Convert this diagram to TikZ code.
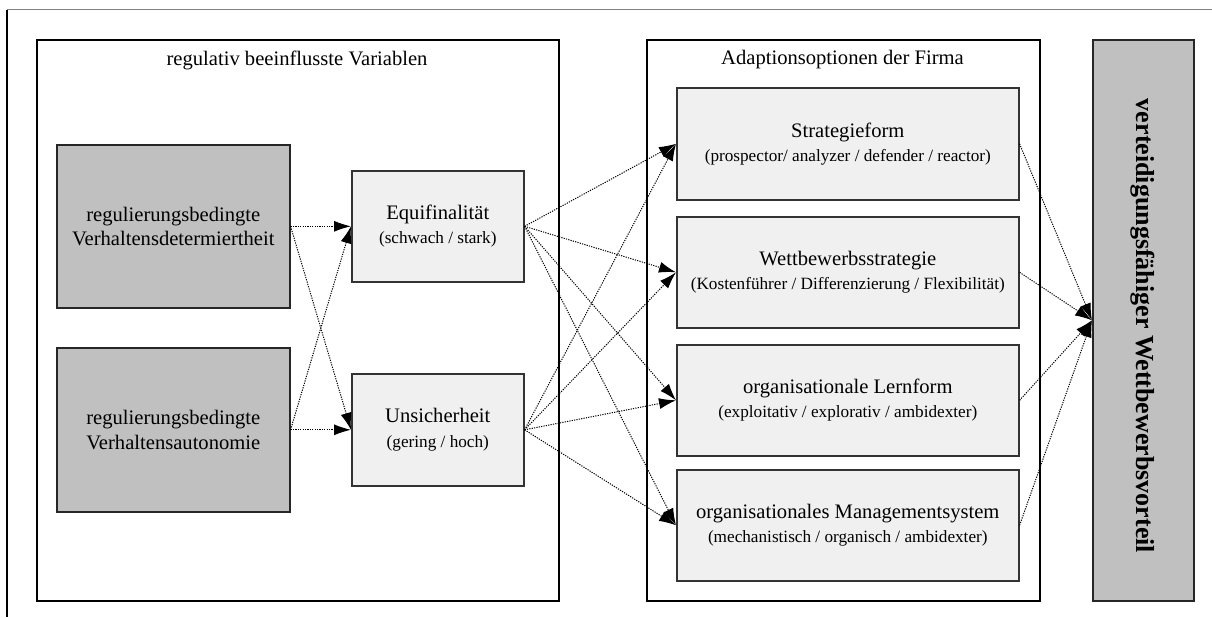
\documentclass[tikz,border=0pt]{standalone}
\usepackage{fontspec}
\setmainfont{Liberation Serif}
\usetikzlibrary{arrows.meta}
\definecolor{boxgray}{HTML}{C0C0C0}
\definecolor{boxlight}{HTML}{F0F0F0}
\definecolor{rulegray}{HTML}{808080}
\newcommand\mainsize{\fontsize{10.3}{12.2}\selectfont}
\newcommand\subsize{\fontsize{8.6}{10.3}\selectfont}
\begin{document}
\begin{tikzpicture}[x=0.5pt,y=-0.5pt,
  frame/.style={draw=black, line width=0.8pt, fill=white, anchor=north west, inner sep=0pt},
  darkbox/.style={draw=black!85, line width=0.8pt, fill=boxgray, anchor=north west,
    align=center, font=\mainsize, inner sep=0pt},
  lightbox/.style={draw=black!80, line width=0.8pt, fill=boxlight, anchor=north west,
    align=center, font=\mainsize, inner sep=0pt},
  heading/.style={font=\mainsize, inner sep=0pt},
  flow/.style={draw=black, line width=0.5pt, dash pattern=on 0.6pt off 0.6pt,
    -{Latex[length=8.5pt,width=5.5pt]}}
]
\useasboundingbox (0,0) rectangle (1212,617);

% page rule lines
\draw[rulegray, line width=0.6pt] (7,9.5) -- (1212,9.5);
\draw[black, line width=0.6pt] (7,9.5) -- (7,617);

% group frames
\node[frame, minimum width=261pt, minimum height=280.5pt] (varframe) at (36,39) {};
\node[frame, minimum width=196.5pt, minimum height=280.5pt] (optframe) at (646,39) {};
\node[heading] (vartitle) at (297,60) {regulativ beeinflusste Variablen};
\node[heading] (opttitle) at (842.5,60) {Adaptionsoptionen der Firma};

% outcome column
\node[darkbox, minimum width=50.5pt, minimum height=280.5pt] (vorteil) at (1092,39) {};
\node[rotate=-90, font=\fontsize{13}{15}\selectfont\bfseries, inner sep=0pt] (vorteiltext)
  at (1142.5,326) {verteidigungsfähiger Wettbewerbsvorteil};

% regulatory conditions
\node[darkbox, minimum width=116.5pt, minimum height=81.5pt] (determ) at (56,144)
  {regulierungsbedingte\\Verhaltensdetermiertheit};
\node[darkbox, minimum width=116.5pt, minimum height=82pt] (autonom) at (56,347)
  {regulierungsbedingte\\Verhaltensautonomie};

% influenced variables
\node[lightbox, minimum width=86pt, minimum height=55.5pt] (equi) at (351,170)
  {Equifinalität\\{\subsize (schwach / stark)}};
\node[lightbox, minimum width=86pt, minimum height=56pt] (unsich) at (351,373)
  {Unsicherheit\\{\subsize (gering / hoch)}};

% adaptation options
\node[lightbox, minimum width=171pt, minimum height=56pt] (strat) at (676,87)
  {Strategieform\\{\subsize (prospector/ analyzer / defender / reactor)}};
\node[lightbox, minimum width=171pt, minimum height=55.5pt] (wett) at (676,216)
  {Wettbewerbsstrategie\\{\subsize (Kostenführer / Differenzierung / Flexibilität)}};
\node[lightbox, minimum width=171pt, minimum height=55.5pt] (lern) at (676,344)
  {organisationale Lernform\\{\subsize (exploitativ / explorativ / ambidexter)}};
\node[lightbox, minimum width=171pt, minimum height=55.5pt] (mgmt) at (676,469)
  {organisationales Managementsystem\\{\subsize (mechanistisch / organisch / ambidexter)}};

% conditions -> variables
\foreach \s in {determ,autonom}
  \foreach \t in {equi,unsich}
    \draw[flow] (\s.east) -- (\t.west);

% variables -> options
\foreach \s in {equi,unsich}
  \foreach \t in {strat,wett,lern,mgmt}
    \draw[flow] (\s.east) -- (\t.west);

% options -> competitive advantage
\foreach \s in {strat,wett,lern,mgmt}
  \draw[flow] (\s.east) -- (vorteil.west);
\end{tikzpicture}
\end{document}
